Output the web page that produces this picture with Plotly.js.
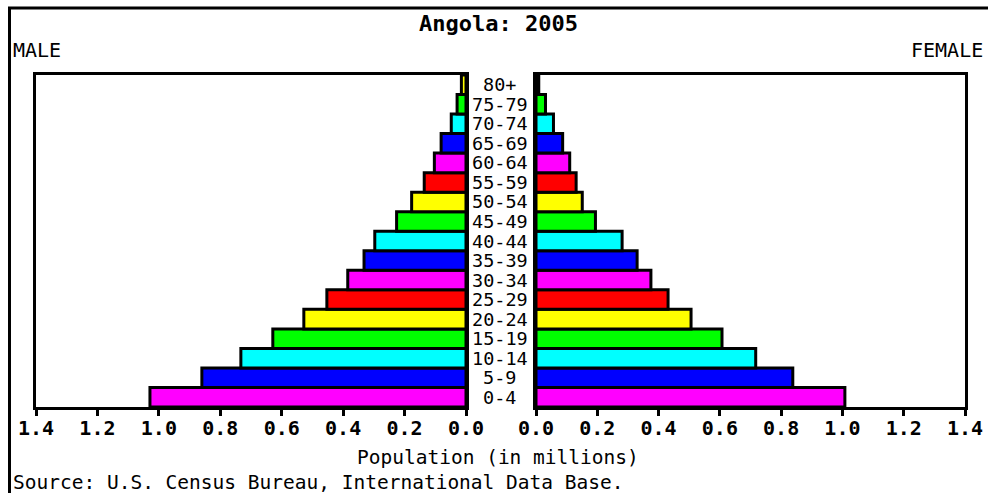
<!DOCTYPE html>
<html>
<head>
<meta charset="utf-8">
<script src="https://cdn.plot.ly/plotly-3.0.1.min.js"></script>
<style>html,body{margin:0;padding:0;background:#fff;}#chart{width:988px;height:493px;}</style>
</head>
<body>
<div id="chart"></div>
<script>
// Data (population in millions), ordered from youngest to oldest
const ageGroups = ["0-4","5-9","10-14","15-19","20-24","25-29","30-34","35-39","40-44","45-49","50-54","55-59","60-64","65-69","70-74","75-79","80+"];
const male   = [1.029,0.860,0.733,0.629,0.528,0.453,0.385,0.332,0.297,0.226,0.177,0.136,0.103,0.081,0.048,0.029,0.015];
const female = [1.008,0.838,0.717,0.607,0.506,0.431,0.375,0.330,0.281,0.194,0.151,0.131,0.110,0.087,0.057,0.031,0.009];
const tickVals = [0,0.2,0.4,0.6,0.8,1.0,1.2,1.4];
const tickText = ["0.0","0.2","0.4","0.6","0.8","1.0","1.2","1.4"];
// color pattern (bottom to top)
const barColors = ["#ff00ff","#0000ff","#00ffff","#00ff00","#ffff00","#ff0000","#ff00ff","#0000ff","#00ffff","#00ff00","#ffff00","#ff0000","#ff00ff","#0000ff","#00ffff","#00ff00","#ffff00"];

const W = 988, H = 493;
const px = v => v / W;
const py = v => 1 - v / H;
const FONT = "DejaVu Sans Mono";

const traces = [
  {type:'bar', orientation:'h', y:ageGroups, x:male, xaxis:'x', yaxis:'y',
   marker:{color:barColors, line:{color:'#000', width:3}}, hoverinfo:'skip'},
  {type:'bar', orientation:'h', y:ageGroups, x:female, xaxis:'x2', yaxis:'y2',
   marker:{color:barColors, line:{color:'#000', width:3}}, hoverinfo:'skip'}
];

const axCommon = {
  showgrid:false, zeroline:false, showline:true, mirror:true, linecolor:'#000', linewidth:3,
  ticks:'outside', ticklen:6, tickwidth:3, tickcolor:'#000', ticklabelstandoff:-5,
  tickvals:tickVals, ticktext:tickText,
  tickfont:{family:FONT, size:20, color:'#000', weight:'bold'}, fixedrange:true
};
const yCommon = {
  showgrid:false, zeroline:false, showline:true, mirror:true, linecolor:'#000', linewidth:3,
  showticklabels:false, ticks:'', type:'category', categoryorder:'array', categoryarray:ageGroups,
  domain:[py(407), py(75)], range:[-0.5, ageGroups.length-0.5], fixedrange:true
};

const annotations = [
  {text:'Angola: 2005', x:px(498.5), y:py(23), xref:'paper', yref:'paper', xanchor:'center', yanchor:'middle', showarrow:false,
   font:{family:FONT, size:22, color:'#000', weight:'bold'}},
  {text:'MALE', x:px(11), y:py(50), xref:'paper', yref:'paper', xanchor:'left', yanchor:'middle', showarrow:false,
   font:{family:FONT, size:20, color:'#000'}},
  {text:'FEMALE', x:px(985), y:py(50), xref:'paper', yref:'paper', xanchor:'right', yanchor:'middle', showarrow:false,
   font:{family:FONT, size:20, color:'#000'}},
  {text:'Population (in millions)', x:px(498), y:py(457), xref:'paper', yref:'paper', xanchor:'center', yanchor:'middle', showarrow:false,
   font:{family:FONT, size:19.5, color:'#000'}},
  {text:'Source: U.S. Census Bureau, International Data Base.', x:px(11), y:py(482), xref:'paper', yref:'paper', xanchor:'left', yanchor:'middle', showarrow:false,
   font:{family:FONT, size:19.5, color:'#000'}}
];
ageGroups.forEach(g => annotations.push({
  text:g, x:px(499.5), y:g, xref:'paper', yref:'y', xanchor:'center', yanchor:'middle', showarrow:false,
  font:{family:FONT, size:18.5, color:'#000'}
}));

const layout = {
  width:W, height:H, margin:{l:0,r:0,t:0,b:0}, paper_bgcolor:'#fff', plot_bgcolor:'#fff',
  showlegend:false, bargap:0,
  xaxis:Object.assign({}, axCommon, {domain:[px(36), px(466)], range:[1.4, 0], anchor:'y'}),
  xaxis2:Object.assign({}, axCommon, {domain:[px(536), px(965)], range:[0, 1.4], anchor:'y2'}),
  yaxis:Object.assign({}, yCommon, {anchor:'x'}),
  yaxis2:Object.assign({}, yCommon, {anchor:'x2'}),
  annotations:annotations,
  shapes:[
    {type:'line', xref:'paper', yref:'paper', x0:px(8), x1:1, y0:py(8), y1:py(8), line:{color:'#000', width:3}},
    {type:'line', xref:'paper', yref:'paper', x0:px(9.5), x1:px(9.5), y0:py(8), y1:0, line:{color:'#000', width:3}}
  ]
};

Plotly.newPlot('chart', traces, layout, {staticPlot:true, displayModeBar:false});
</script>
</body>
</html>
